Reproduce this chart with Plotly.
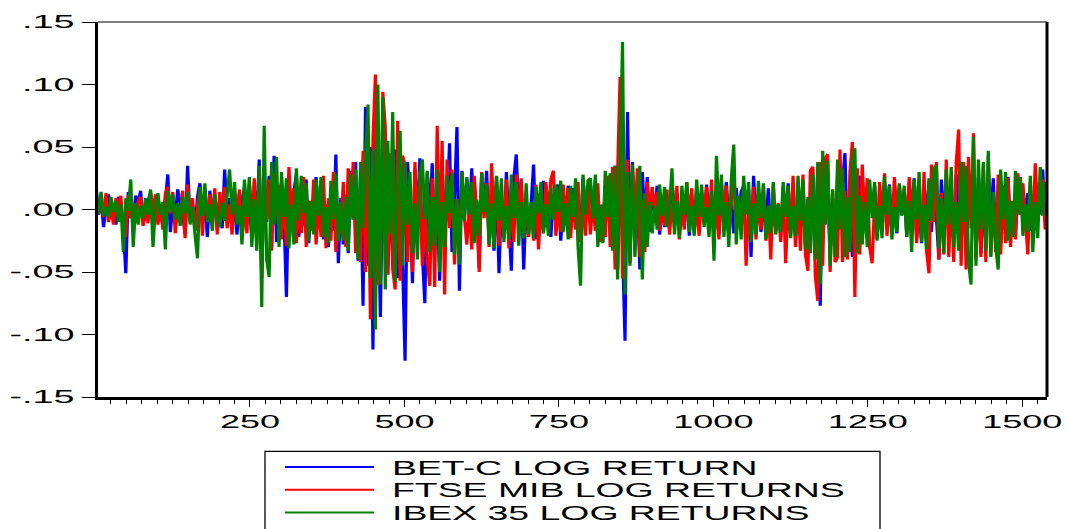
import plotly.graph_objects as go

# ---- data (log returns, in thousandths; one reading every 4th observation) ----
OBS_STEP = 4
series_names = ["BET-C LOG RETURN", "FTSE MIB LOG RETURNS", "IBEX 35 LOG RETURNS"]

bet_c_milli = [
    18, -4, 9, -14, 3, 12, -7, -2, -12, 10, 4, -15, -51, 14, 2, -9, 11, 5, 15, -12, -3, 7, 13, -16, 4,
    -8, 3, -14, 7, 28, -18, 2, -6, 16, 5, -3, -20, 35, -9, 4, -17, 10, 21, -5, 6, -22, 15, -2, 8, -16,
    6, -15, 32, -4, 9, -12, 3, -20, 14, -2, 19, -8, 5, -23, 16, -6, 40, -47, 22, -10, 27, -31, 43, -26, 8,
    21, -6, -70, 25, -3, 14, 28, -22, 5, -13, 24, -27, 2, -8, 26, -9, 20, -24, 4, -30, 12, -17, 44, -43, 9,
    -28, 12, -35, 31, -8, 38, -41, 27, -77, 82, -45, 50, -112, 58, 20, -86, 35, 60, -52, 14, -38, 48, -55, 10, -42,
    -121, 38, 6, -59, 33, -8, 41, -36, -75, 30, -4, 37, -31, 8, -57, 35, -16, 2, 53, -34, 9, 66, -65, 31, -7,
    24, -5, 33, -21, 7, -47, 29, -3, 31, -19, 2, -33, 26, -51, 8, -22, 30, -6, -49, 25, 44, -4, 23, -48, 6,
    -18, 4, 36, -24, 2, -9, 23, -14, 5, -22, 12, -3, 20, -25, 4, -11, 19, -2, 17, -15, 6, -18, 25, -7, 16,
    20, -5, 24, -22, 3, -26, 19, -4, 27, -21, 35, -48, 45, -30, -105, 78, -40, 38, -25, 12, -48, 30, -8, 26, -18,
    15, -2, 19, -20, 4, -14, 6, -9, 22, -3, 13, -18, 2, -13, 16, -21, 5, -8, 18, -4, 14, -11, 20, -6, 9,
    -14, 5, -20, 13, -3, 22, -11, 4, -19, 17, -6, 14, 19, -2, 16, -38, 27, -5, 12, -18, 3, -13, 17, -21, 6,
    -16, 4, -22, 14, -5, 21, -13, 3, -25, 20, -7, 23, -28, 8, -32, 30, -38, 35, -77, 40, -12, 33, -36, 9, -30,
    28, -14, 22, 45, -30, 6, -38, 31, -4, 27, -20, 3, -22, 15, -2, 19, -14, 5, -18, 16, -3, 20, -15, 4, -19,
    17, -4, 14, -19, 22, -6, 25, -23, 3, -27, 20, -8, 23, -18, 27, -2, -40, 24, -5, 19, -26, 7, -24, 28, -17,
    -26, 6, -20, 29, -3, 18, -30, 26, -35, 4, -27, 31, -9, 25, -24, 2, -28, 19, -6, 26, -17, 5, -20, 15, -4,
    16, -5, 13, -17, 3, -12, 15, -4, 32, -10,
]

ftse_mib_milli = [
    10, -3, 8, -6, 13, -10, 2, -12, 9, -1, 11, -18, -22, 12, -7, 4, -9, 6, 10, -13, 3, -11, 15, -2, 12,
    -12, 4, -16, 13, 18, -3, 14, -19, 2, -8, 15, -23, 20, -5, 9, -17, 3, 16, -21, 10, -4, 12, -9, 17, -20,
    14, -3, 18, -15, 4, -20, 13, -6, 16, -24, 2, -19, 21, -7, 25, -28, 30, -55, 27, -9, 24, -33, 29, -5, 20,
    -24, 8, -29, 34, -6, 17, -27, 3, -19, 26, -30, 7, -17, 24, -28, 5, -22, 27, -31, 9, -25, 30, -34, 4, -20,
    22, -30, 33, -6, 38, -35, 12, -42, 47, -50, 40, -88, 55, 108, -60, -56, 94, 66, -52, 45, -48, -64, 71, -57, 43,
    35, -42, 8, -50, 38, -13, 30, -45, 4, -40, -61, 25, -62, 67, -30, 55, -68, 40, -15, 32, -44, 8, -38, 30, -6,
    -28, 4, -32, 27, -2, -50, 30, -7, 21, -30, 37, -5, 23, -29, 6, -20, 24, -31, 3, -26, 28, -9, 25, -23, 4,
    -22, 5, -25, 20, -32, 3, -19, 22, -4, 24, 31, -21, 2, -18, 20, -6, 17, -23, 8, -16, 22, -26, 5, -21, 18,
    -20, 6, -17, 21, -26, 4, -22, 27, -30, 34, -48, 25, 106, -55, -45, 40, -43, 36, -10, 33, -38, 8, -34, 22, -5,
    18, -4, 14, -17, 3, -13, 16, -20, 5, -15, 19, -24, 2, -16, 22, -6, 17, -19, 4, -21, 11, -3, 18, -17, 24,
    -20, 3, -24, 21, -5, 19, -22, 4, 35, -18, 6, -17, 20, -45, 2, -21, 18, -24, 7, -16, 19, -25, 3, -40, 21,
    -18, 5, -26, 19, -43, 4, -20, 27, -30, 8, -33, 28, -36, -49, 31, 34, -53, -73, 38, -45, 41, 44, -50, 16, -42,
    -38, 48, -42, 15, -40, 30, 54, -70, 33, -36, 36, -8, 25, -30, -43, 7, -24, 22, -6, 29, -21, 4, -19, 26, -2,
    20, -4, 17, -22, 26, -5, 23, -27, 8, -25, 30, -33, -51, 36, -10, 38, -40, 13, -36, 40, -38, 15, -42, 37, 64,
    -45, 38, -48, 42, -15, 61, -40, 13, -38, 36, -42, 43, -37, 10, -34, 28, -36, 12, -27, 25, -30, 7, -24, 29, -4,
    21, -5, -36, 22, -19, 37, -3, 18, 24, -16,
]

ibex_35_milli = [
    8, -3, 14, -5, 2, -6, 10, -2, 7, -10, 4, -34, 9, -1, 24, -30, 5, -12, 3, -7, 9, -4, 16, -30, 2,
    13, -4, 6, -32, 15, -2, 12, -8, 5, -13, 10, -3, 14, -12, 2, -20, -39, 18, -5, 21, -10, 4, -17, 12, -6,
    -14, 5, -9, 15, 32, -4, 22, -12, 3, -28, 24, -6, 26, -30, 8, -33, 35, -78, 67, -40, -54, 38, -12, 42, -30,
    30, -6, 25, -31, 4, -28, 33, -9, 27, -3, 21, -25, 7, -20, 24, -5, 26, -22, 2, -27, 23, -8, 29, -25, 6,
    -25, 10, -33, 28, -8, 32, -40, 38, -15, 42, 84, -55, 48, -96, 100, -60, 90, -64, 55, -20, 78, -58, 17, 63, -45,
    38, -12, 30, -35, 5, -40, 28, 40, -8, 31, -34, 10, -29, 32, -50, 6, -30, 27, -3, 29, -36, 8, -44, 30, -9,
    26, -4, 22, -27, 8, -21, 29, -2, 20, -28, 5, -31, 27, -9, 25, -26, 3, -24, 28, -7, 22, -29, 6, -23, 21,
    -20, 6, -23, 18, -3, 22, -19, 4, -21, 17, -8, 20, -2, 23, -18, 5, -24, 19, -6, 25, -30, -61, 28, -4, 23,
    25, -7, 28, -30, 4, -27, 31, -6, 29, -33, 35, -56, 40, 134, -68, 30, -45, 36, -38, 8, 35, -56, 13, -30, 6,
    -19, 3, -16, 20, -5, 18, -14, 2, 33, -20, 7, -23, 19, -4, 22, -18, 3, -21, 24, -6, 20, -14, 2, -22, 15,
    -41, 43, -5, 28, -22, 6, -30, 24, 52, -28, 11, -24, 27, -4, 22, -26, 5, -20, 23, -7, 21, -24, 3, -19, 22,
    -20, 4, -18, 22, -6, 19, -23, 3, -21, 27, -9, 24, -32, 10, -35, 28, -40, 38, -60, 47, -12, 39, -45, 16, -38,
    40, -16, 33, -38, 10, -34, 37, 49, -35, 11, -28, 6, -30, 24, -7, 22, -25, 3, -23, 26, -4, 19, -24, 2, -18,
    21, -5, 19, -22, 7, -34, 24, -8, 30, -26, 4, -32, 25, -9, 33, 35, -31, 9, -35, 32, -12, 34, -30, 6, -33,
    38, -10, 35, -42, -60, 58, -45, 40, -16, 38, -33, 47, -38, 14, -30, -48, 32, -8, 30, -25, 7, -22, 31, -4, 26,
    -21, 4, -18, 27, -34, 6, -23, 34, -5, 22,
]

y_tick_vals = [0.15, 0.10, 0.05, 0.0, -0.05, -0.10, -0.15]
y_tick_text = [".15", ".10", ".05", ".00", "-.05", "-.10", "-.15"]
x_tick_vals = [250, 500, 750, 1000, 1250, 1500]
x_tick_text = ["250", "500", "750", "1000", "1250", "1500"]

colors = ["#0000FF", "#FF0000", "#008000"]
series_values = [bet_c_milli, ftse_mib_milli, ibex_35_milli]

# ---- figure ----
W, H = 1070, 529
ML, MR, MT, MB = 98, 23, 17, 132
PW, PH = W - ML - MR, H - MT - MB


def px_x(px):
    return (px - ML) / PW


def px_y(py):
    return (H - MB - py) / PH


fig = go.Figure()
for name, vals, col in zip(series_names, series_values, colors):
    xs = list(range(1, 1 + OBS_STEP * len(vals), OBS_STEP))
    fig.add_trace(go.Scatter(
        x=xs, y=[v / 1000 for v in vals], mode="lines", name=name,
        line=dict(color=col, width=3.2), showlegend=False, hoverinfo="skip",
    ))

FONT = "Liberation Sans, Arial, sans-serif"
fig.update_layout(
    width=W, height=H,
    margin=dict(l=ML, r=MR, t=MT, b=MB, pad=0),
    paper_bgcolor="white", plot_bgcolor="white",
    font=dict(family=FONT, size=18, color="black"),
    xaxis=dict(
        range=[4, 1540], showgrid=False, zeroline=False,
        showline=True, linecolor="black", linewidth=2.5,
        tickmode="array", tickvals=x_tick_vals, ticktext=x_tick_text,
        ticks="outside", ticklen=7, tickwidth=1, tickcolor="black",
        tickfont=dict(family=FONT, size=18, color="black"),
        minor=dict(tickmode="linear", tick0=0, dtick=25, ticks="outside",
                   ticklen=4, tickwidth=1, tickcolor="black", showgrid=False),
    ),
    yaxis=dict(
        range=[-0.15, 0.15], showgrid=False, zeroline=False,
        showline=True, linecolor="black", linewidth=2.5,
        tickmode="array", tickvals=y_tick_vals, ticktext=y_tick_text,
        ticks="outside", ticklen=13, tickwidth=1, tickcolor="black",
        ticklabelstandoff=4,
        tickfont=dict(family=FONT, size=18, color="black"),
    ),
)

# top (thin grey) and right (thick black) frame lines
fig.add_shape(type="line", xref="paper", yref="paper", x0=0, x1=1, y0=1, y1=1,
              line=dict(color="#555555", width=1.3))
fig.add_shape(type="line", xref="paper", yref="paper", x0=1, x1=1, y0=0, y1=1,
              line=dict(color="black", width=3))

# legend box (runs past the bottom edge, as in the reference)
fig.add_shape(type="rect", xref="paper", yref="paper",
              x0=px_x(265), x1=px_x(880), y0=px_y(452), y1=px_y(545),
              line=dict(color="black", width=1.3), fillcolor="rgba(0,0,0,0)")
legend_rows = [468, 491, 514]
for name, col, ry in zip(series_names, colors, legend_rows):
    fig.add_shape(type="line", xref="paper", yref="paper",
                  x0=px_x(285), x1=px_x(374), y0=px_y(ry), y1=px_y(ry),
                  line=dict(color=col, width=2))
    fig.add_annotation(xref="paper", yref="paper", x=px_x(390), y=px_y(ry),
                       xanchor="left", yanchor="middle", text=name, showarrow=False,
                       font=dict(family=FONT, size=21, color="black"))

# remove the page margin and widen the text horizontally, like the stretched original export
post = r"""
document.documentElement.style.margin = '0';
document.documentElement.style.padding = '0';
document.body.style.margin = '0';
document.body.style.padding = '0';
document.body.style.overflow = 'hidden';
var gd = document.getElementById('{plot_id}');
var specs = [['.xtick text', 2.0, 'middle'], ['.ytick text', 2.1, 'end'], ['.annotation-text', 1.78, 'start']];
specs.forEach(function(s){
  gd.querySelectorAll(s[0]).forEach(function(t){
    if (t.getAttribute('data-str')) return;
    var b0 = t.getBBox();
    var L = t.getComputedTextLength();
    t.setAttribute('textLength', L * s[1]);
    t.setAttribute('lengthAdjust', 'spacingAndGlyphs');
    var b1 = t.getBBox();
    var dx;
    if (s[2] === 'middle') dx = (b0.x + b0.width / 2) - (b1.x + b1.width / 2);
    else if (s[2] === 'end') dx = (b0.x + b0.width) - (b1.x + b1.width);
    else dx = b0.x - b1.x;
    var x = parseFloat(t.getAttribute('x') || '0');
    t.setAttribute('x', x + dx);
    t.setAttribute('data-str', '1');
  });
});
"""

fig.write_html("out.html", post_script=post, config={"displayModeBar": False})
